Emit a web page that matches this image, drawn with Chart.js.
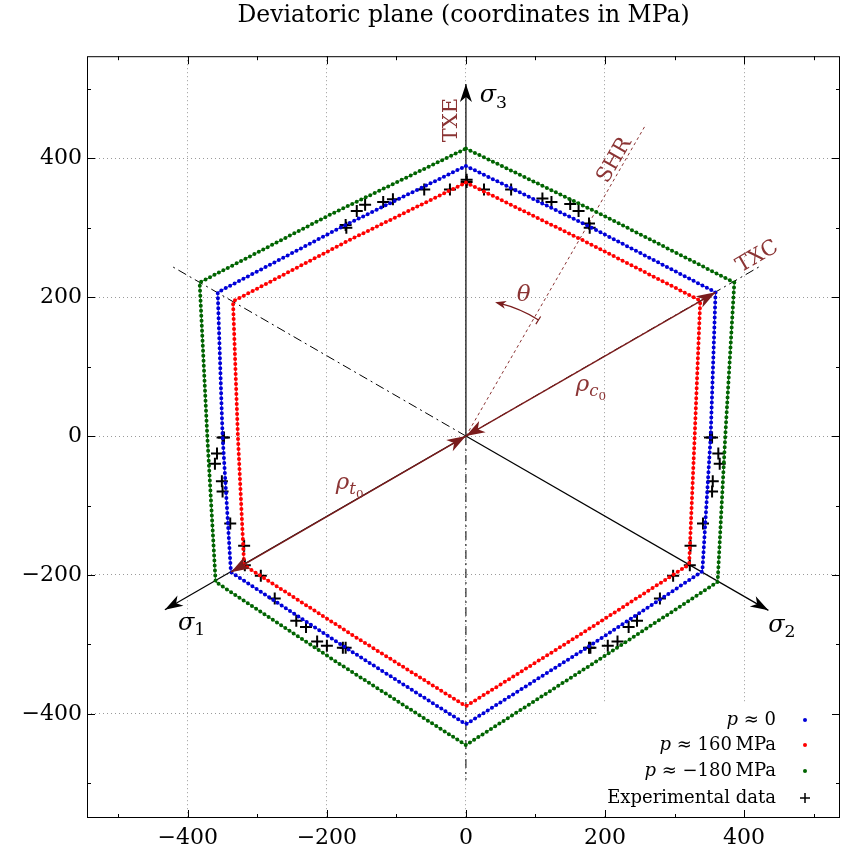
<!DOCTYPE html>
<html>
<head>
<meta charset="utf-8">
<script src="https://cdn.jsdelivr.net/npm/chart.js@4.4.1/dist/chart.umd.min.js"></script>
<style>
  html, body { margin: 0; padding: 0; background: #fff; }
</style>
</head>
<body>
<canvas id="devChart" width="842" height="859"></canvas>
<script>
const SERIF = '"DejaVu Serif", "Liberation Serif", serif';

// axis ticks (MPa)
const xTicks = [-400, -200, 0, 200, 400];
const yTicks = [-400, -200, 0, 200, 400];
const minorTicks = [-500, -400, -300, -200, -100, 0, 100, 200, 300, 400, 500];

const seriesColors = ['#0000d8', '#ff0000', '#006400', '#000000'];

// traces of the surfaces in the deviatoric plane, [x, y]
const surfP0 = [[0, 389], [181, 300], [359, 207], [352, 0], [340, -195], [172, -306], [0, -415],
  [-171, -306], [-338, -196], [-350, 0], [-357, 207], [-181, 300], [0, 389]];
const surfP160 = [[0, 365], [170, 281], [337, 195], [329, 0], [321, -185], [161, -288], [0, -389],
  [-161, -288], [-319, -186], [-328, 0], [-335, 194], [-170, 281], [0, 365]];
const surfPm180 = [[0, 414], [195, 319], [386, 221], [373, 0], [362, -210], [182, -328], [0, -445],
  [-182, -328], [-360, -210], [-372, 0], [-383, 221], [-195, 319], [0, 414]];

// experimental points
const expPoints = [
  [-173, 304], [-172, 300], [-157, 324], [-145, 333], [-119, 337], [-105, 341], [-60, 355], [-23, 355],
  [1, 369], [1, 366], [26, 355], [65, 355], [110, 342], [123, 337], [150, 334], [162, 324], [177, 306], [178, 300],
  [-350, -2], [-348, -2], [-358, -25], [-361, -40], [-351, -65], [-350, -80], [-339, -126], [-319, -158],
  [-318, -186], [-295, -201], [-275, -234], [-244, -266], [-230, -275], [-214, -296], [-200, -302], [-177, -305], [-173, -305],
  [351, -2], [354, -2], [363, -25], [365, -40], [355, -65], [354, -80], [341, -126], [323, -158],
  [322, -186], [298, -201], [279, -234], [246, -266], [234, -275], [218, -296], [204, -302], [179, -305], [177, -305]
];

// annotation geometry (data coords)
const principalAxes = [['1', -433, -250], ['2', 435, -251], ['3', 0, 507]];
const principalLabels = [['1', -397, -268], ['2', 452, -270], ['3', 37, 492]];
const negativeAxes = [[424, 245], [-424, 245], [0, -495]];
const shrEnd = [259, 449];
const meridianLabels = [['TXE', -20, 455, -90], ['TXC', 419, 258, -30], ['SHR', 214, 397, -60]];

const toXY = pts => pts.map(p => ({ x: p[0], y: p[1] }));
const fmt = v => (v < 0 ? '\u2212' + Math.abs(v) : String(v));

function arrowHead(ctx, tx, ty, fx, fy, len, half, color) {
  const a = Math.atan2(ty - fy, tx - fx);
  ctx.save();
  ctx.translate(tx, ty);
  ctx.rotate(a);
  ctx.beginPath();
  ctx.moveTo(0, 0);
  ctx.lineTo(-len, -half);
  ctx.lineTo(-len * 0.72, 0);
  ctx.lineTo(-len, half);
  ctx.closePath();
  ctx.fillStyle = color;
  ctx.fill();
  ctx.restore();
}

function subText(ctx, main, subs, x, y, size, color) {
  // main glyph italic, subs = [[text, italic], ...] each smaller and lower
  ctx.save();
  ctx.fillStyle = color;
  ctx.textBaseline = 'alphabetic';
  ctx.textAlign = 'left';
  ctx.font = 'italic ' + size + 'px ' + SERIF;
  ctx.fillText(main, x, y);
  let cx = x + ctx.measureText(main).width;
  let s = size, cy = y;
  subs.forEach(sb => {
    cy += s * 0.22;
    s = s * 0.72;
    ctx.font = (sb[1] ? 'italic ' : '') + s + 'px ' + SERIF;
    ctx.fillText(sb[0], cx, cy);
    cx += ctx.measureText(sb[0]).width;
  });
  ctx.restore();
}

const devPlugin = {
  id: 'devPlane',
  beforeDatasetsDraw(chart) {
    const { ctx, scales: { x, y } } = chart;
    const P = (a, b) => [x.getPixelForValue(a), y.getPixelForValue(b)];
    const o = P(0, 0);
    ctx.save();
    // negative principal directions
    ctx.strokeStyle = '#000';
    ctx.lineWidth = 1;
    ctx.setLineDash([9, 4, 2, 4]);
    negativeAxes.forEach(e => {
      const p = P(e[0], e[1]);
      ctx.beginPath(); ctx.moveTo(o[0], o[1]); ctx.lineTo(p[0], p[1]); ctx.stroke();
    });
    // shear meridian
    ctx.strokeStyle = '#8b3434';
    ctx.setLineDash([3, 3]);
    const s = P(shrEnd[0], shrEnd[1]);
    ctx.beginPath(); ctx.moveTo(o[0], o[1]); ctx.lineTo(s[0], s[1]); ctx.stroke();
    ctx.setLineDash([]);
    // principal axes
    ctx.strokeStyle = '#000';
    ctx.lineWidth = 1.2;
    principalAxes.forEach(a => {
      const p = P(a[1], a[2]);
      ctx.beginPath(); ctx.moveTo(o[0], o[1]); ctx.lineTo(p[0], p[1]); ctx.stroke();
      arrowHead(ctx, p[0], p[1], o[0], o[1], 18, 6, '#000');
    });
    principalLabels.forEach(l => {
      const p = P(l[1], l[2]);
      subText(ctx, '\u03c3', [[l[0], false]], p[0] - 12, p[1] + 8, 24, '#000');
    });
    // meridian labels
    ctx.fillStyle = '#8b3434';
    ctx.font = '21px ' + SERIF;
    ctx.textAlign = 'center';
    ctx.textBaseline = 'middle';
    meridianLabels.forEach(m => {
      const p = P(m[1], m[2]);
      ctx.save();
      ctx.translate(p[0], p[1]);
      ctx.rotate(m[3] * Math.PI / 180);
      ctx.fillText(m[0], 0, 0);
      ctx.restore();
    });
    // thin connecting line under the dotted traces
    [0, 1, 2].forEach(i => {
      const pts = chart.getDatasetMeta(i).data;
      ctx.strokeStyle = seriesColors[i];
      ctx.lineWidth = 0.8;
      ctx.beginPath();
      pts.forEach((pt, k) => (k ? ctx.lineTo(pt.x, pt.y) : ctx.moveTo(pt.x, pt.y)));
      ctx.stroke();
    });
    ctx.restore();
  },
  afterDatasetsDraw(chart) {
    const { ctx, chartArea: ca, scales: { x, y } } = chart;
    const P = (a, b) => [x.getPixelForValue(a), y.getPixelForValue(b)];
    const o = P(0, 0);
    const brown = '#7a1c1c';
    ctx.save();
    // rho arrows to compression / extension vertices of p ~ 0
    [surfP0[2], surfP0[8]].forEach(v => {
      const p = P(v[0], v[1]);
      ctx.strokeStyle = brown;
      ctx.lineWidth = 1.4;
      ctx.beginPath(); ctx.moveTo(o[0], o[1]); ctx.lineTo(p[0], p[1]); ctx.stroke();
      arrowHead(ctx, p[0], p[1], o[0], o[1], 19, 6.5, brown);
      arrowHead(ctx, o[0], o[1], p[0], p[1], 19, 6.5, brown);
    });
    let p = P(178, 73);
    subText(ctx, '\u03c1', [['c', true], ['0', false]], p[0] - 14, p[1] + 6, 23, '#8b3434');
    p = P(-167, -68);
    subText(ctx, '\u03c1', [['t', true], ['0', false]], p[0] - 14, p[1] + 6, 23, '#8b3434');
    // theta arc
    const r = x.getPixelForValue(197) - o[0];
    const a0 = 58 * Math.PI / 180, a1 = 76 * Math.PI / 180;
    ctx.strokeStyle = brown;
    ctx.lineWidth = 1.2;
    ctx.beginPath();
    ctx.arc(o[0], o[1], r, -a0, -a1, true);
    ctx.stroke();
    ctx.beginPath();
    ctx.moveTo(o[0] + (r - 5) * Math.cos(a0), o[1] - (r - 5) * Math.sin(a0));
    ctx.lineTo(o[0] + (r + 4) * Math.cos(a0), o[1] - (r + 4) * Math.sin(a0));
    ctx.stroke();
    const tip = [o[0] + r * Math.cos(a1 + 0.03), o[1] - r * Math.sin(a1 + 0.03)];
    arrowHead(ctx, tip[0], tip[1], tip[0] + Math.sin(a1), tip[1] + Math.cos(a1), 11, 4, brown);
    p = P(83, 203);
    ctx.fillStyle = '#8b3434';
    ctx.font = 'italic 23px ' + SERIF;
    ctx.textAlign = 'center';
    ctx.textBaseline = 'middle';
    ctx.fillText('\u03b8', p[0], p[1]);

    // legend
    ctx.fillStyle = '#fff';
    ctx.fillRect(ca.right - 242, ca.bottom - 114, 240, 112);
    const rows = [[['p', true], [' \u2248 0', false]], [['p', true], [' \u2248 160\u2009MPa', false]],
      [['p', true], [' \u2248 \u2212180\u2009MPa', false]], [['Experimental data', false]]];
    const rowY = [720, 745, 771, 798];
    const textRight = ca.right - 64, markX = ca.right - 35;
    ctx.textBaseline = 'middle';
    ctx.textAlign = 'left';
    rows.forEach((parts, i) => {
      let w = 0;
      parts.forEach(pt => { ctx.font = (pt[1] ? 'italic ' : '') + '18px ' + SERIF; w += ctx.measureText(pt[0]).width; });
      let cx = textRight - w;
      ctx.fillStyle = '#000';
      parts.forEach(pt => {
        ctx.font = (pt[1] ? 'italic ' : '') + '18px ' + SERIF;
        ctx.fillText(pt[0], cx, rowY[i]);
        cx += ctx.measureText(pt[0]).width;
      });
      if (i < 3) {
        ctx.fillStyle = seriesColors[i];
        ctx.beginPath(); ctx.arc(markX, rowY[i], 2, 0, Math.PI * 2); ctx.fill();
      } else {
        ctx.strokeStyle = '#000'; ctx.lineWidth = 1.5;
        ctx.beginPath();
        ctx.moveTo(markX - 5, rowY[i]); ctx.lineTo(markX + 5, rowY[i]);
        ctx.moveTo(markX, rowY[i] - 5); ctx.lineTo(markX, rowY[i] + 5);
        ctx.stroke();
      }
    });

    // frame with inward ticks
    ctx.strokeStyle = '#000';
    ctx.lineWidth = 1;
    ctx.strokeRect(ca.left + 0.5, ca.top + 0.5, ca.width - 1, ca.height - 1);
    ctx.beginPath();
    minorTicks.forEach(v => {
      const len = v % 200 === 0 ? 8 : 4;
      const px = Math.round(x.getPixelForValue(v)) + 0.5;
      if (px > ca.left && px < ca.right) {
        ctx.moveTo(px, ca.bottom); ctx.lineTo(px, ca.bottom - len);
        ctx.moveTo(px, ca.top); ctx.lineTo(px, ca.top + len);
      }
      const py = Math.round(y.getPixelForValue(v)) + 0.5;
      if (py > ca.top && py < ca.bottom) {
        ctx.moveTo(ca.left, py); ctx.lineTo(ca.left + len, py);
        ctx.moveTo(ca.right, py); ctx.lineTo(ca.right - len, py);
      }
    });
    ctx.stroke();
    ctx.restore();
  }
};

const dottedTrace = (label, pts, color) => ({
  label: label,
  data: toXY(pts),
  showLine: true,
  borderColor: color,
  borderWidth: 4,
  borderDash: [0, 5],
  borderCapStyle: 'round',
  pointRadius: 0,
  tension: 0,
  fill: false
});

const noPad = s => { s.paddingLeft = 0; s.paddingRight = 0; s.paddingTop = 0; s.paddingBottom = 0; };

const ctx = document.getElementById('devChart').getContext('2d');
const devChart = new Chart(ctx, {
  type: 'scatter',
  data: {
    datasets: [
      dottedTrace('p \u2248 0', surfP0, seriesColors[0]),
      dottedTrace('p \u2248 160 MPa', surfP160, seriesColors[1]),
      dottedTrace('p \u2248 \u2212180 MPa', surfPm180, seriesColors[2]),
      {
        label: 'Experimental data',
        data: toXY(expPoints),
        showLine: false,
        pointStyle: 'cross',
        pointRadius: 6,
        pointBorderWidth: 2,
        pointBorderColor: '#000',
        pointBackgroundColor: '#000'
      }
    ]
  },
  options: {
    responsive: false,
    animation: false,
    layout: { autoPadding: false, padding: { left: 0, right: 2, top: 0, bottom: 0 } },
    plugins: {
      legend: { display: false },
      tooltip: { enabled: false },
      title: {
        display: true,
        fullSize: false,
        text: 'Deviatoric plane (coordinates in MPa)',
        color: '#000',
        font: { family: SERIF, size: 23.5, weight: 'normal' },
        padding: { top: 2, bottom: 26 }
      }
    },
    scales: {
      x: {
        type: 'linear',
        min: -545,
        max: 538,
        afterBuildTicks: s => { s.ticks = xTicks.map(v => ({ value: v })); },
        afterFit: s => { s.height = 41; noPad(s); },
        grid: { color: '#9a9a9a', lineWidth: 1, drawTicks: false },
        border: { display: false, dash: [1, 3] },
        ticks: { padding: 7, color: '#000', font: { family: SERIF, size: 22 }, callback: v => fmt(v) }
      },
      y: {
        type: 'linear',
        min: -550,
        max: 547,
        afterBuildTicks: s => { s.ticks = yTicks.map(v => ({ value: v })); },
        afterFit: s => { s.width = 87; noPad(s); },
        grid: { color: '#9a9a9a', lineWidth: 1, drawTicks: false },
        border: { display: false, dash: [1, 3] },
        ticks: { padding: 5, color: '#000', font: { family: SERIF, size: 22 }, callback: v => fmt(v) }
      }
    }
  },
  plugins: [devPlugin]
});
</script>
</body>
</html>
